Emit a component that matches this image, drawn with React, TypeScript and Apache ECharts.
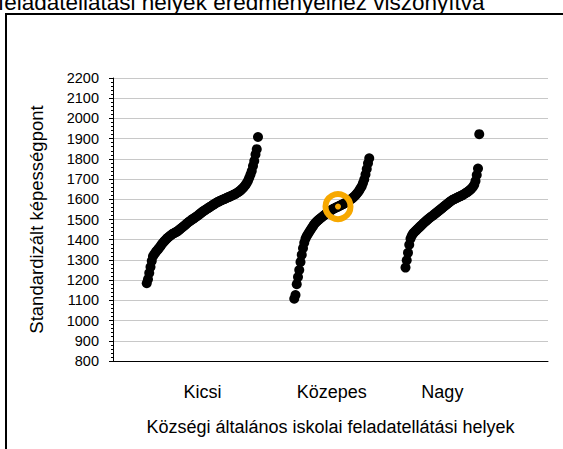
import React, { useEffect, useRef } from "react";
import * as echarts from "echarts";

// ---- data ----
const categories = ["Kicsi", "Közepes", "Nagy"];

const kicsi = [
  1185, 1205, 1235, 1265, 1295, 1318, 1328, 1337, 1345, 1352,
  1360, 1368, 1377, 1385, 1392, 1398, 1405, 1411, 1416, 1421,
  1426, 1430, 1433, 1436, 1440, 1444, 1449, 1454, 1459, 1464,
  1469, 1474, 1480, 1485, 1490, 1494, 1499, 1503, 1507, 1511,
  1516, 1520, 1525, 1530, 1535, 1540, 1544, 1548, 1552, 1556,
  1560, 1564, 1568, 1572, 1576, 1580, 1584, 1587, 1590, 1593,
  1596, 1599, 1601, 1604, 1607, 1610, 1612, 1615, 1618, 1621,
  1624, 1627, 1631, 1635, 1639, 1644, 1650, 1656, 1663, 1671,
  1680, 1692, 1706, 1722, 1740, 1765, 1790, 1822, 1848, 1908,
];

const kozepes = [
  1108, 1126, 1180, 1215, 1250, 1290, 1325, 1358, 1385, 1405,
  1418, 1428, 1438, 1448, 1458, 1467, 1476, 1484, 1490, 1496,
  1501, 1506, 1511, 1516, 1521, 1526, 1531, 1536, 1540, 1544,
  1548, 1552, 1555, 1558, 1561, 1564, 1567, 1570, 1573, 1576,
  1579, 1583, 1587, 1591, 1595, 1599, 1603, 1608, 1614, 1620,
  1627, 1635, 1644, 1654, 1665, 1680, 1698, 1722, 1750, 1778,
  1803,
];

const nagy = [
  1262, 1298, 1335, 1375, 1405, 1420, 1430, 1437, 1443, 1449,
  1455, 1461, 1467, 1473, 1479, 1485, 1490, 1496, 1501, 1506,
  1511, 1516, 1520, 1525, 1530, 1535, 1540, 1545, 1550, 1555,
  1560, 1565, 1570, 1575, 1580, 1585, 1590, 1594, 1598, 1601,
  1604, 1607, 1610, 1613, 1616, 1619, 1622, 1626, 1630, 1634,
  1638, 1643, 1648, 1654, 1662, 1672, 1690, 1720, 1752, 1922,
];

const yMin = 800;
const yMax = 2200;
const yStep = 100;

// highlighted school: group index and rank index inside the group
const highlightGroup = 1;
const highlightIndex = 35;

const titleText = "feladatellátási helyek eredményeihez viszonyítva";
const yName = "Standardizált képességpont";
const xName = "Községi általános iskolai feladatellátási helyek";

// ---- layout (rank axis) ----
const groupStart = [27, 145, 234];
const rankMax = 348;

export default function App() {
  const ref = useRef<HTMLDivElement>(null);

  useEffect(() => {
    if (!ref.current) return;
    const chart = echarts.init(ref.current, null, { renderer: "svg" });
    const groups = [kicsi, kozepes, nagy];
    const centers = groups.map((g, k) => groupStart[k] + (g.length - 1) / 2);
    const font = "'Liberation Sans', Arial, sans-serif";

    const series: any[] = groups.map((g, k) => ({
      type: "scatter",
      name: categories[k],
      symbol: "circle",
      symbolSize: 10,
      itemStyle: { color: "#000", opacity: 1 },
      silent: true,
      data: g.map((v, i) => [groupStart[k] + i, v]),
    }));

    const hv = groups[highlightGroup][highlightIndex];
    const hx = groupStart[highlightGroup] + highlightIndex;
    series.push({
      type: "scatter",
      symbol: "circle",
      symbolSize: 25,
      z: 5,
      silent: true,
      itemStyle: { color: "rgba(0,0,0,0)", borderColor: "#F7A800", borderWidth: 6, opacity: 1 },
      data: [[hx, hv]],
    });
    series.push({
      type: "scatter",
      symbol: "circle",
      symbolSize: 6,
      z: 6,
      silent: true,
      itemStyle: { color: "#F7A800", opacity: 1 },
      data: [[hx, hv]],
    });

    chart.setOption({
      animation: false,
      textStyle: { fontFamily: font },
      grid: { left: 113, right: 15, top: 78, bottom: 88 },
      graphic: [
        {
          type: "rect",
          shape: { x: 6, y: 14, width: 620, height: 520 },
          style: { fill: "none", stroke: "#000", lineWidth: 2 },
          silent: true,
        },
        {
          type: "text",
          x: -2,
          y: 2,
          style: {
            text: titleText,
            fontSize: 22.5,
            fontFamily: font,
            fill: "#000",
            verticalAlign: "middle",
            align: "left",
          },
        },
      ],
      xAxis: {
        type: "value",
        min: 0,
        max: rankMax,
        name: xName,
        nameLocation: "middle",
        nameGap: 57,
        nameTextStyle: { fontSize: 18, color: "#000", fontFamily: font },
        axisLine: { show: true, lineStyle: { color: "#000", width: 1 } },
        axisTick: { show: false },
        splitLine: { show: false },
        axisLabel: {
          customValues: centers,
          fontSize: 18,
          color: "#000",
          margin: 22,
          fontFamily: font,
          formatter: (v: number) => {
            const k = centers.findIndex((c) => Math.abs(c - v) < 0.01);
            return k >= 0 ? categories[k] : "";
          },
        },
      },
      yAxis: {
        type: "value",
        min: yMin,
        max: yMax,
        interval: yStep,
        name: yName,
        nameLocation: "middle",
        nameRotate: 90,
        nameGap: 67,
        nameTextStyle: { fontSize: 18.5, color: "#000", fontFamily: font },
        axisLine: { show: true, lineStyle: { color: "#000", width: 1 } },
        axisTick: { show: true, length: 4, lineStyle: { color: "#000" } },
        minorTick: { show: true, splitNumber: 5, length: 2, lineStyle: { color: "#000" } },
        splitLine: { show: true, lineStyle: { color: "#c8c8c8", width: 1 } },
        axisLabel: {
          fontSize: 14.5,
          color: "#000",
          margin: 14,
          fontFamily: font,
          formatter: (v: number) => String(v),
        },
      },
      series,
    });

    return () => chart.dispose();
  }, []);

  return (
    <div
      ref={ref}
      style={{ position: "fixed", left: 0, top: 0, width: 563, height: 449, background: "#fff" }}
    />
  );
}
